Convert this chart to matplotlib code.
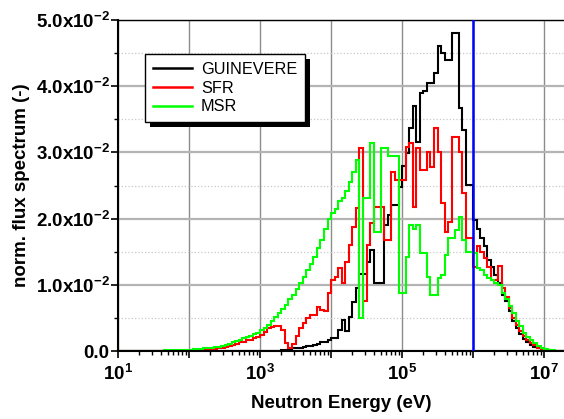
import numpy as np
import matplotlib
matplotlib.use("Agg")
import matplotlib.pyplot as plt
from matplotlib.patches import Rectangle
from matplotlib.ticker import FixedLocator, FixedFormatter, NullFormatter

plt.rcParams['font.family'] = ['Liberation Sans', 'DejaVu Sans']
plt.rcParams['mathtext.fontset'] = 'custom'
plt.rcParams['mathtext.rm'] = 'Liberation Sans'
plt.rcParams['mathtext.bf'] = 'Liberation Sans:bold'
plt.rcParams['mathtext.default'] = 'bf'

# energy group boundaries (eV), 20 groups per decade
edges = np.logspace(1, 7.3, 127)

guinevere = [0]*45 + [
    0.00005, 0.0001, 0.0002, 0.0003, 0.0004, 0.0005, 0.0005, 0.0006, 0.0007, 0.0008,
    0.0009, 0.0010, 0.0013, 0.0014, 0.0017, 0.0020, 0.0020, 0.0032, 0.0047, 0.0030,
    0.0052, 0.0074, 0.0095, 0.0116, 0.0116, 0.0135, 0.0152, 0.0102, 0.0102, 0.0102,
    0.0190, 0.0205, 0.0220, 0.0220, 0.0248, 0.0280, 0.0299, 0.0337, 0.0370, 0.0316,
    0.0390, 0.0392, 0.0405, 0.0405, 0.0420, 0.0460, 0.0450, 0.0440, 0.0440, 0.0481,
    0.0481, 0.0367, 0.0334, 0.0251, 0.0251, 0.0198, 0.0185, 0.0170, 0.0158, 0.0137,
    0.0127, 0.0115, 0.0102, 0.0085, 0.0075, 0.0060, 0.0045, 0.0035, 0.0025, 0.0018,
    0.0013, 0.0009, 0.0006, 0.0004, 0.0002, 0.0001, 0, 0, 0, 0, 0]

sfr = [0]*20 + [
    0.00005, 0.00007, 0.0001, 0.00012, 0.00015, 0.0002, 0.00025, 0.0003, 0.0004, 0.0005,
    0.0006, 0.0008, 0.0009, 0.0011, 0.0013, 0.0014, 0.0016, 0.0017, 0.0019, 0.0021,
    0.0024, 0.0029, 0.0034, 0.0036, 0.0038, 0.0038, 0.0032, 0.0012, 0.0005, 0.0010,
    0.0022, 0.0035, 0.0042, 0.0050, 0.0055, 0.0055, 0.0067, 0.0062, 0.0060, 0.0088,
    0.0107, 0.0112, 0.0125, 0.0103, 0.0135, 0.0160, 0.0188, 0.0216, 0.0307, 0.0075,
    0.0160, 0.0193, 0.0218, 0.0218, 0.0218, 0.0168, 0.0168, 0.0271, 0.0258, 0.0258,
    0.0258, 0.0308, 0.0314, 0.0218, 0.0307, 0.0273, 0.0273, 0.0300, 0.0278, 0.0337,
    0.0301, 0.0224, 0.0180, 0.0195, 0.0324, 0.0324, 0.0300, 0.0238, 0.0170, 0.0170,
    0.0127, 0.0158, 0.0150, 0.0140, 0.0127, 0.0107, 0.0107, 0.0128, 0.0095, 0.0082,
    0.0065, 0.0050, 0.0040, 0.0030, 0.0022, 0.0017, 0.0012, 0.0009, 0.0005, 0.0003,
    0.0002, 0.0001, 0.00005, 0, 0, 0]

msr = [
    0.00001, 0.00001, 0.00001, 0.00002, 0.00002, 0.00002, 0.00003, 0.00003, 0.00004, 0.00004,
    0.00005, 0.00006, 0.00007, 0.00008, 0.00009, 0.0001, 0.00012, 0.00014, 0.00016, 0.00019,
    0.00022, 0.00026, 0.0003, 0.00035, 0.0004, 0.00045, 0.0005, 0.00056, 0.00063, 0.0007,
    0.0009, 0.0011, 0.0013, 0.0015, 0.0017, 0.0019, 0.0021, 0.0023, 0.0025, 0.0027,
    0.0031, 0.0035, 0.0040, 0.0045, 0.0051, 0.0057, 0.0063, 0.0070, 0.0078, 0.0085,
    0.0094, 0.0102, 0.0112, 0.0122, 0.0132, 0.0142, 0.0155, 0.0168, 0.0185, 0.0200,
    0.0208, 0.0215, 0.0226, 0.0231, 0.0242, 0.0256, 0.0271, 0.0289, 0.0050, 0.0231,
    0.0231, 0.0314, 0.0180, 0.0180, 0.0307, 0.0307, 0.0295, 0.0295, 0.0295, 0.0088,
    0.0088, 0.0142, 0.0190, 0.0185, 0.0190, 0.0148, 0.0148, 0.0112, 0.0085, 0.0085,
    0.0110, 0.0115, 0.0145, 0.0170, 0.0170, 0.0183, 0.0203, 0.0168, 0.0150, 0.0150,
    0.0148, 0.0125, 0.0122, 0.0115, 0.0110, 0.0108, 0.0103, 0.0100, 0.0088, 0.0078,
    0.0068, 0.0057, 0.0046, 0.0038, 0.0027, 0.0021, 0.0016, 0.0012, 0.0007, 0.0004,
    0.0003, 0.0002, 0.0001, 0.00005, 0.00002, 0.00001]

labels = ["GUINEVERE", "SFR", "MSR"]
colors = ["black", "#ff0000", "#00ff00"]
cutoff_energy = 1e6

yticks = [0.0, 0.01, 0.02, 0.03, 0.04, 0.05]
ytick_labels = ["0.0", r"$1.0x10^{-2}$", r"$2.0x10^{-2}$", r"$3.0x10^{-2}$",
                r"$4.0x10^{-2}$", r"$5.0x10^{-2}$"]

fig = plt.figure(figsize=(5.64, 4.19), dpi=100)
ax = fig.add_axes([118/564, 1 - 351/419, 446/564, 331/419])

for vals, lab, col in zip([guinevere, sfr, msr], labels, colors):
    ax.stairs(vals, edges, baseline=None, color=col, lw=1.5, label=lab)

ax.axvline(cutoff_energy, color="#0000ff", lw=1.8, zorder=3)

ax.set_xscale("log")
ax.set_xlim(10, 10**7.28)
ax.set_ylim(0, 0.05)

# x axis: ticks every decade, labels every other decade
decades = [10.0**k for k in range(1, 8)]
ax.xaxis.set_major_locator(FixedLocator(decades))
ax.xaxis.set_major_formatter(FixedFormatter(
    [r"$10^{%d}$" % k if k % 2 == 1 else "" for k in range(1, 8)]))
minors = [m * 10.0**k for k in range(1, 8) for m in range(2, 10)]
ax.xaxis.set_minor_locator(FixedLocator(minors))
ax.xaxis.set_minor_formatter(NullFormatter())

ax.yaxis.set_major_locator(FixedLocator(yticks))
ax.yaxis.set_major_formatter(FixedFormatter(ytick_labels))
ax.yaxis.set_minor_locator(FixedLocator([0.005, 0.015, 0.025, 0.035, 0.045]))

ax.tick_params(axis="both", which="major", direction="out", length=5, width=1.2,
               labelsize=13.5)
ax.tick_params(axis="both", which="minor", direction="out", length=3, width=1.0)
ax.tick_params(axis="x", which="major", pad=4)
ax.tick_params(axis="y", which="major", pad=1)
for t in ax.get_yticklabels():
    t.set_fontweight("bold")

ax.grid(True, axis="x", which="major", color="#8c8c8c", lw=1.0)
ax.grid(True, axis="y", which="major", color="#b4b4b4", lw=1.6)
ax.grid(True, axis="y", which="minor", color="#c8c8c8", lw=0.9, ls=":")
ax.set_axisbelow(True)

ax.spines["right"].set_visible(False)
ax.spines["left"].set_linewidth(1.5)
ax.spines["bottom"].set_linewidth(1.5)
ax.spines["top"].set_linewidth(1.0)

ax.set_xlabel("Neutron Energy (eV)", fontsize=13.5, fontweight="bold", labelpad=8)
ax.set_ylabel("norm. flux spectrum (-)", fontsize=13.5, fontweight="bold", labelpad=4)

leg = ax.legend(loc="upper left", bbox_to_anchor=(27/446, 297/331), fontsize=11.7,
                frameon=True, fancybox=False, edgecolor="black", framealpha=1,
                handlelength=2.4, handletextpad=0.55, labelspacing=0.22,
                borderpad=0.5, borderaxespad=0)
leg.get_frame().set_linewidth(1.0)
for line in leg.get_lines():
    line.set_linewidth(1.8)

# solid black drop shadow behind legend box
fig.canvas.draw()
bb = leg.get_frame().get_window_extent()
bb_ax = bb.transformed(ax.transAxes.inverted())
dx = 5 / 446
dy = 5 / 331
ax.add_patch(Rectangle((bb_ax.x0 + dx, bb_ax.y0 - dy), bb_ax.width, bb_ax.height,
                       transform=ax.transAxes, facecolor="black", edgecolor="none",
                       zorder=4.9, clip_on=False))

fig.savefig("out.png", dpi=100)
